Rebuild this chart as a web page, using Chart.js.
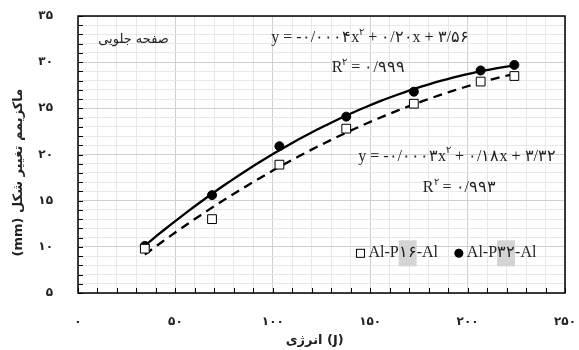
<!DOCTYPE html>
<html>
<head>
<meta charset="utf-8">
<script src="https://cdn.jsdelivr.net/npm/chart.js@4.4.1/dist/chart.umd.min.js"></script>
<style>
  html, body { margin: 0; padding: 0; background: #fff; }
  #wrap { width: 579px; height: 350px; }
</style>
</head>
<body>
<div id="wrap"><canvas id="deformChart" width="579" height="350"></canvas></div>
<script>
// values
const energyJ = [34.3, 68.8, 103.4, 137.7, 172.4, 206.7, 224.0];
const deformP16 = [9.8, 13.0, 18.9, 22.8, 25.5, 27.9, 28.5];
const deformP32 = [10.1, 15.6, 20.9, 24.1, 26.8, 29.1, 29.7];
const seriesLabels = ['Al-P۱۶-Al', 'Al-P۳۲-Al'];
const xTicks = [0, 50, 100, 150, 200, 250];
const yTicks = [5, 10, 15, 20, 25, 30, 35];

const eqP32 = ['y = -۰/۰۰۰۴x', '۲', ' + ۰/۲۰x + ۳/۵۶'];
const r2P32 = ['R', '۲', ' = ۰/۹۹۹'];
const eqP16 = ['y = -۰/۰۰۰۳x', '۲', ' + ۰/۱۸x + ۳/۳۲'];
const r2P16 = ['R', '۲', ' = ۰/۹۹۳'];
const panelLabel = 'صفحه جلویی';
const xTitle = 'انرژی (J)\u00A0\u00A0\u00A0';
const yTitle = '\u202Bماکزیمم تغییر شکل (mm)\u202C' + '\u00A0'.repeat(8);

const fa = n => String(n).replace(/\d/g, d => '۰۱۲۳۴۵۶۷۸۹'[d]);

// least squares 2nd order fit, like the excel trendline
function fitQuadratic(xs, ys) {
    let s0 = xs.length, s1 = 0, s2 = 0, s3 = 0, s4 = 0, t0 = 0, t1 = 0, t2 = 0;
    xs.forEach((x, i) => {
        const y = ys[i];
        s1 += x; s2 += x * x; s3 += x * x * x; s4 += x * x * x * x;
        t0 += y; t1 += x * y; t2 += x * x * y;
    });
    const det = (m) => m[0][0] * (m[1][1] * m[2][2] - m[1][2] * m[2][1])
        - m[0][1] * (m[1][0] * m[2][2] - m[1][2] * m[2][0])
        + m[0][2] * (m[1][0] * m[2][1] - m[1][1] * m[2][0]);
    const M = [[s4, s3, s2], [s3, s2, s1], [s2, s1, s0]];
    const T = [t2, t1, t0];
    const D = det(M);
    const coef = [0, 1, 2].map(k => det(M.map((row, r) => row.map((v, c) => c === k ? T[r] : v))) / D);
    return coef; // a, b, c
}

function trendPoints(xs, ys) {
    const [a, b, c] = fitQuadratic(xs, ys);
    const pts = [];
    const x0 = xs[0], x1 = xs[xs.length - 1];
    for (let i = 0; i <= 60; i++) {
        const x = x0 + (x1 - x0) * i / 60;
        pts.push({ x: x, y: a * x * x + b * x + c });
    }
    return pts;
}

const toXY = (xs, ys) => xs.map((x, i) => ({ x: x, y: ys[i] }));

function drawRich(ctx, parts, cx, cy, size) {
    const big = size + 'px "Liberation Serif", "DejaVu Serif", serif';
    const small = Math.round(size * 0.62) + 'px "Liberation Serif", "DejaVu Serif", serif';
    let widths = parts.map((p, i) => { ctx.font = i % 2 ? small : big; return ctx.measureText(p).width; });
    let x = cx - widths.reduce((s, w) => s + w, 0) / 2;
    ctx.textBaseline = 'middle';
    ctx.textAlign = 'left';
    parts.forEach((p, i) => {
        ctx.font = i % 2 ? small : big;
        ctx.fillText(p, x, i % 2 ? cy - size * 0.35 : cy);
        x += widths[i];
    });
}

const extras = {
    id: 'extras',
    afterDraw(chart) {
        const { ctx, chartArea: area, scales: { x, y } } = chart;
        ctx.save();
        // frame
        ctx.strokeStyle = '#000';
        ctx.lineWidth = 1.5;
        ctx.strokeRect(area.left, area.top, area.right - area.left, area.bottom - area.top);
        // inner tick marks
        ctx.lineWidth = 1;
        for (let v = 5; v <= 35; v++) {
            const py = Math.round(y.getPixelForValue(v)) + 0.5;
            ctx.beginPath(); ctx.moveTo(area.left, py); ctx.lineTo(area.left + 5, py); ctx.stroke();
        }
        for (let v = 0; v <= 250; v += 10) {
            const px = Math.round(x.getPixelForValue(v)) + 0.5;
            ctx.beginPath(); ctx.moveTo(px, area.bottom); ctx.lineTo(px, area.bottom - 5); ctx.stroke();
        }
        // equations
        ctx.fillStyle = '#222';
        drawRich(ctx, eqP32, x.getPixelForValue(150), y.getPixelForValue(32.6), 16);
        drawRich(ctx, r2P32, x.getPixelForValue(149), y.getPixelForValue(29.4), 16);
        drawRich(ctx, eqP16, x.getPixelForValue(194.6), y.getPixelForValue(19.8), 16);
        drawRich(ctx, r2P16, x.getPixelForValue(195.8), y.getPixelForValue(16.4), 16);
        ctx.font = '13px "DejaVu Sans", sans-serif';
        ctx.textAlign = 'center';
        ctx.textBaseline = 'middle';
        ctx.fillText(panelLabel, x.getPixelForValue(28.5), y.getPixelForValue(32.4));

        // legend inside the plot
        const ly = y.getPixelForValue(9.3);
        const items = [chart.data.datasets[0], chart.data.datasets[1]];
        const starts = [x.getPixelForValue(145), x.getPixelForValue(195.5)];
        const lfont = '16px "Liberation Serif", "DejaVu Serif", serif';
        items.forEach((ds, i) => {
            const mx = starts[i];
            ctx.lineWidth = 1;
            ctx.strokeStyle = '#000';
            if (ds.pointStyle === 'rect') {
                ctx.fillStyle = '#fff';
                ctx.fillRect(mx - 4, ly - 4, 8, 8);
                ctx.strokeRect(mx - 4, ly - 4, 8, 8);
            } else {
                ctx.fillStyle = '#000';
                ctx.beginPath(); ctx.arc(mx, ly, 4.5, 0, Math.PI * 2); ctx.fill();
            }
            ctx.font = lfont;
            const label = ds.label;
            const tx = mx + 8;
            const m = label.match(/[۰-۹]+/);
            if (m) {
                const pre = ctx.measureText(label.slice(0, m.index)).width;
                const dw = ctx.measureText(m[0]).width;
                ctx.fillStyle = '#d4d4d4';
                ctx.fillRect(tx + pre, ly - 13, dw, 26);
            }
            ctx.fillStyle = '#222';
            ctx.textAlign = 'left';
            ctx.textBaseline = 'middle';
            ctx.fillText(label, tx, ly);
        });
        ctx.restore();
    }
};

const ctx = document.getElementById('deformChart').getContext('2d');

new Chart(ctx, {
    type: 'scatter',
    data: {
        datasets: [
            {
                label: seriesLabels[0],
                data: toXY(energyJ, deformP16),
                pointStyle: 'rect',
                pointRadius: 6.2,
                backgroundColor: '#fff',
                borderColor: '#000',
                borderWidth: 1,
                order: 0
            },
            {
                label: seriesLabels[1],
                data: toXY(energyJ, deformP32),
                pointStyle: 'circle',
                pointRadius: 4.5,
                backgroundColor: '#000',
                borderColor: '#000',
                borderWidth: 1,
                order: 0
            },
            {
                label: 'trend16',
                data: trendPoints(energyJ, deformP16),
                showLine: true,
                pointRadius: 0,
                borderColor: '#000',
                borderWidth: 2.3,
                borderDash: [9, 6],
                order: 1
            },
            {
                label: 'trend32',
                data: trendPoints(energyJ, deformP32),
                showLine: true,
                pointRadius: 0,
                borderColor: '#000',
                borderWidth: 2.3,
                order: 1
            }
        ]
    },
    options: {
        responsive: false,
        animation: false,
        layout: { padding: { top: 16, right: 14, left: 0, bottom: 0 } },
        plugins: {
            legend: { display: false },
            tooltip: { enabled: false }
        },
        scales: {
            x: {
                type: 'linear',
                min: xTicks[0],
                max: xTicks[xTicks.length - 1],
                afterFit: s => { s.height = 57; s.paddingLeft = 0; s.paddingRight = 0; },
                afterBuildTicks: s => { s.ticks = []; for (let v = 0; v <= 250; v += 10) s.ticks.push({ value: v }); },
                grid: {
                    drawTicks: false,
                    color: c => (c.tick && xTicks.includes(c.tick.value)) ? '#d0d0d0' : '#e8e8e8'
                },
                border: { display: false },
                ticks: {
                    autoSkip: false,
                    maxRotation: 0,
                    padding: 22,
                    color: '#222',
                    font: { family: 'DejaVu Sans', size: 12, weight: 'bold' },
                    callback: v => xTicks.includes(v) ? fa(v) : ''
                },
                title: {
                    display: true,
                    text: xTitle,
                    color: '#222',
                    padding: { bottom: 2 },
                    font: { family: 'DejaVu Sans', size: 13, weight: 'bold' }
                }
            },
            y: {
                type: 'linear',
                min: yTicks[0],
                max: yTicks[yTicks.length - 1],
                afterFit: s => { s.width = 78; s.paddingTop = 0; s.paddingBottom = 0; },
                afterBuildTicks: s => { s.ticks = []; for (let v = 5; v <= 35; v++) s.ticks.push({ value: v }); },
                grid: {
                    drawTicks: false,
                    color: c => (c.tick && yTicks.includes(c.tick.value)) ? '#d0d0d0' : '#e8e8e8'
                },
                border: { display: false },
                ticks: {
                    autoSkip: false,
                    padding: 25,
                    color: '#222',
                    font: { family: 'DejaVu Sans', size: 12, weight: 'bold' },
                    callback: v => yTicks.includes(v) ? fa(v) : ''
                },
                title: {
                    display: true,
                    text: yTitle,
                    color: '#222',
                    padding: { top: 11 },
                    font: { family: 'DejaVu Sans', size: 13, weight: 'bold' }
                }
            }
        }
    },
    plugins: [extras]
});
</script>
</body>
</html>
